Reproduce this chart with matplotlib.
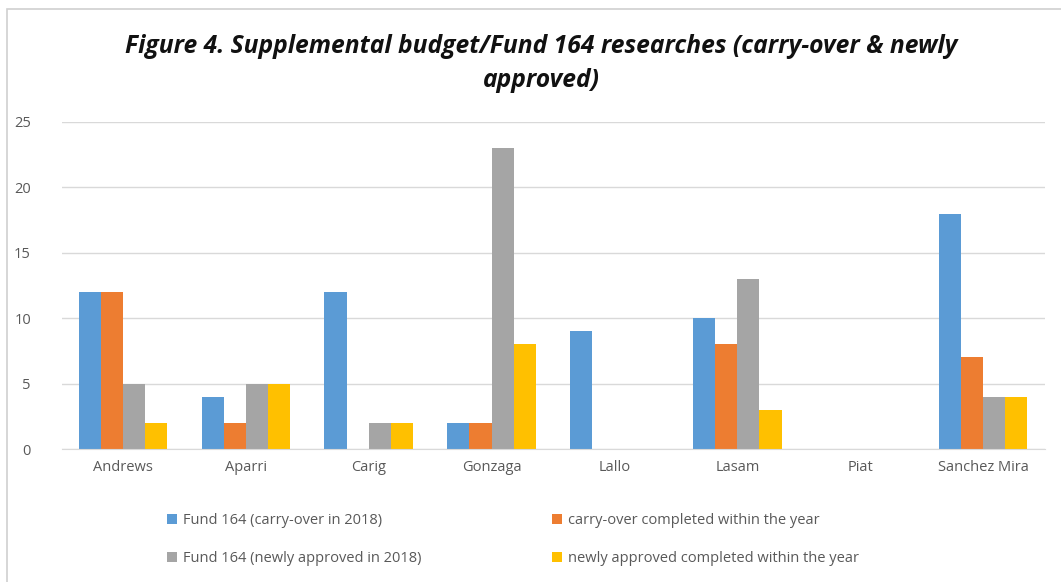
import numpy as np
import matplotlib.pyplot as plt
from matplotlib.patches import Rectangle

stations = ["Andrews", "Aparri", "Carig", "Gonzaga", "Lallo", "Lasam", "Piat", "Sanchez Mira"]
carry_over = [12, 4, 12, 2, 9, 10, 0, 18]
carry_over_done = [12, 2, 0, 2, 0, 8, 0, 7]
newly_approved = [5, 5, 2, 23, 0, 13, 0, 4]
newly_done = [2, 5, 2, 8, 0, 3, 0, 4]

series = [
    ("Fund 164 (carry-over in 2018)", carry_over, "#5B9BD5"),
    ("carry-over completed within the year", carry_over_done, "#ED7D31"),
    ("Fund 164 (newly approved in 2018)", newly_approved, "#A5A5A5"),
    ("newly approved completed within the year", newly_done, "#FFC000"),
]

plt.rcParams["font.family"] = ["Open Sans", "DejaVu Sans"]

fig = plt.figure(figsize=(10.61, 5.82), dpi=100)
ax = fig.add_axes([0.058, 0.2285, 0.9265, 0.5619])

# chart frame
fig.patches.append(Rectangle((7 / 1061, -0.1), 1.2, 1.1 - 9 / 582,
                             transform=fig.transFigure, fill=False,
                             edgecolor="#d0d0d0", linewidth=1.2))

x = np.arange(len(stations))
w = 0.18
handles = []
for i, (label, vals, color) in enumerate(series):
    b = ax.bar(x + (i - 1.5) * w, vals, w, color=color, label=label, zorder=3)
    handles.append(b)

ax.set_xlim(-0.5, len(stations) - 0.5)
ax.set_ylim(0, 25)
ax.set_yticks([0, 5, 10, 15, 20, 25])
ax.set_xticks(x)
ax.set_xticklabels(stations)
ax.yaxis.grid(True, color="#d9d9d9", linewidth=1, zorder=0)
ax.tick_params(axis="both", length=0, labelsize=10.5, colors="#595959")
ax.tick_params(axis="x", pad=8)
ax.tick_params(axis="y", pad=22)
for s in ["top", "right", "left"]:
    ax.spines[s].set_visible(False)
ax.spines["bottom"].set_color("#d9d9d9")
ax.spines["bottom"].set_zorder(4)

fig.text(0.51, 0.891,
         "Figure 4. Supplemental budget/Fund 164 researches (carry-over & newly\napproved)",
         ha="center", va="center", fontsize=17.7, fontweight="bold",
         fontstyle="italic", linespacing=1.45, color="#111111")

# legend filled row by row: blue, orange / gray, yellow
order = [0, 2, 1, 3]
leg = fig.legend(handles=[handles[i] for i in order], loc="center left", ncol=2,
                 bbox_to_anchor=(0.145, 0.073), frameon=False,
                 fontsize=10.5, handlelength=0.7, handleheight=0.7,
                 handletextpad=0.4, columnspacing=8.95, labelspacing=1.55)
for t in leg.get_texts():
    t.set_color("#595959")

plt.savefig("out.png", dpi=100)
